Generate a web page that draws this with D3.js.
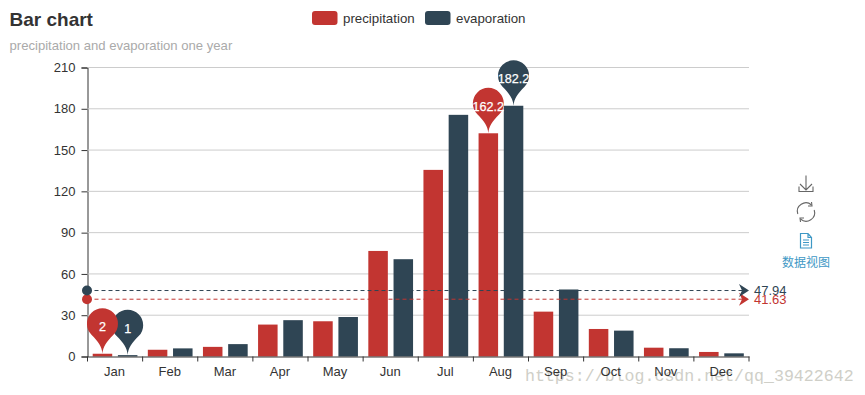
<!DOCTYPE html>
<html>
<head>
<meta charset="utf-8">
<script src="https://cdn.jsdelivr.net/npm/d3@7"></script>
<style>
  body { margin: 0; background: #fff; }
  text { font-family: "Liberation Sans", Arial, sans-serif; }
</style>
</head>
<body>
<div id="chart"></div>
<script>
const months = ['Jan','Feb','Mar','Apr','May','Jun','Jul','Aug','Sep','Oct','Nov','Dec'];
const precipitation = [2, 4.9, 7, 23.2, 25.6, 76.7, 135.6, 162.2, 32.6, 20, 6.4, 3.3];
const evaporation = [1, 5.9, 9, 26.4, 28.7, 70.7, 175.6, 182.2, 48.7, 18.8, 6, 2.3];
const seriesNames = ['precipitation', 'evaporation'];
const seriesColors = ['#c23531', '#2f4554'];
const seriesValues = [precipitation, evaporation];
const averages = [41.63, 47.94];
const yTicks = [0, 30, 60, 90, 120, 150, 180, 210];

const width = 865, height = 395;
const margin = { top: 67.5, right: 116, bottom: 38.5, left: 87.5 };

const svg = d3.select('#chart').append('svg')
	.attr('width', width)
	.attr('height', height)
	.style('display', 'block');

// scales
const xScale = d3.scaleBand()
	.domain(months)
	.range([margin.left, width - margin.right]);

const xInner = d3.scaleBand()
	.domain(seriesNames)
	.range([0, xScale.bandwidth()])
	.paddingInner(0.226)
	.paddingOuter(0.206);

const yScale = d3.scaleLinear()
	.domain([0, 210])
	.range([height - margin.bottom, margin.top]);

// watermark sits behind the axis labels
svg.append('text').attr('x', 525).attr('y', 381)
	.attr('font-size', 16.6)
	.attr('fill', '#cfcfc8')
	.style('font-family', '"Liberation Mono", monospace')
	.text('https://blog.csdn.net/qq_39422642');

// y axis with the grid lines
const yAxis = svg.append('g')
	.attr('transform', `translate(${margin.left},0)`)
	.call(d3.axisLeft(yScale).tickValues(yTicks).tickSize(6).tickPadding(6));
yAxis.selectAll('.tick text').attr('font-size', 13).attr('fill', '#333');
yAxis.selectAll('.tick line').attr('stroke', '#333');
yAxis.select('.domain').attr('stroke', '#333');

svg.append('g').selectAll('line')
	.data(yTicks.filter(d => d > 0))
	.enter().append('line')
	.attr('x1', margin.left)
	.attr('x2', width - margin.right)
	.attr('y1', d => yScale(d))
	.attr('y2', d => yScale(d))
	.attr('stroke', '#ccc');

// bars
seriesNames.forEach((name, i) => {
	svg.append('g').selectAll('rect')
		.data(seriesValues[i])
		.enter().append('rect')
		.attr('x', (d, j) => xScale(months[j]) + xInner(name))
		.attr('y', d => yScale(d))
		.attr('width', xInner.bandwidth())
		.attr('height', d => yScale(0) - yScale(d))
		.attr('fill', seriesColors[i]);
});

// x axis, ticks sit between the months
const xAxisG = svg.append('g')
	.attr('transform', `translate(0,${yScale(0)})`)
	.call(d3.axisBottom(xScale).tickSize(0).tickPadding(10));
xAxisG.selectAll('.tick text').attr('font-size', 13).attr('fill', '#333').attr('dx', '-0.5');
xAxisG.select('.domain').attr('stroke', '#333');
xAxisG.selectAll('.sep')
	.data(months.concat(['end']))
	.enter().append('line')
	.attr('class', 'sep')
	.attr('x1', (d, i) => margin.left + i * xScale.step())
	.attr('x2', (d, i) => margin.left + i * xScale.step())
	.attr('y1', 0)
	.attr('y2', 5)
	.attr('stroke', '#333');

// average lines
averages.forEach((avg, i) => {
	const c = seriesColors[i];
	const y = yScale(avg);
	const x2 = width - margin.right;
	svg.append('line')
		.attr('x1', margin.left).attr('x2', x2 - 4)
		.attr('y1', y).attr('y2', y)
		.attr('stroke', c)
		.attr('stroke-dasharray', '4,3');
	svg.append('circle')
		.attr('cx', margin.left - 0.5).attr('cy', y).attr('r', 5).attr('fill', c);
	svg.append('path')
		.attr('transform', `translate(${x2},${y})`)
		.attr('d', 'M-10,-6.5 L0,0 L-10,6.5 L-7,0 Z')
		.attr('fill', c);
});
[1, 0].forEach(i => {
	svg.append('text')
		.attr('x', 754)
		.attr('y', yScale(averages[i]))
		.attr('dy', '.35em')
		.attr('font-size', 13)
		.attr('fill', seriesColors[i])
		.text(averages[i]);
});

// pins for the min and max of each series
const pinPath = 'M0,0 C-0.5,-7 -4,-12 -11,-19 A15.5,15.5 0 1 1 11,-19 C4,-12 0.5,-7 0,0 Z';
[1, 0].forEach(i => {
	const vals = seriesValues[i];
	[d3.min(vals), d3.max(vals)].forEach(v => {
		const m = months[vals.indexOf(v)];
		const g = svg.append('g')
			.attr('transform', `translate(${xScale(m) + xInner(seriesNames[i]) + xInner.bandwidth() / 2},${yScale(v)})`);
		g.append('path').attr('d', pinPath).attr('fill', seriesColors[i]);
		g.append('text')
			.attr('y', -27)
			.attr('dy', '.35em')
			.attr('text-anchor', 'middle')
			.attr('font-size', 12.6)
			.attr('fill', '#fff')
			.attr('stroke', '#fff')
			.attr('stroke-width', 0.25)
			.text(v);
	});
});

// title
svg.append('text').attr('x', 9.5).attr('y', 26)
	.attr('font-size', 19).attr('font-weight', 'bold').attr('fill', '#333')
	.text('Bar chart');
svg.append('text').attr('x', 9.5).attr('y', 50)
	.attr('font-size', 13.1).attr('fill', '#aaa')
	.text('precipitation and evaporation one year');

// legend
const legendX = [312, 425];
seriesNames.forEach((name, i) => {
	svg.append('rect')
		.attr('x', legendX[i]).attr('y', 11)
		.attr('width', 25.5).attr('height', 14)
		.attr('rx', 3)
		.attr('fill', seriesColors[i]);
	svg.append('text')
		.attr('x', legendX[i] + 31).attr('y', 22.5)
		.attr('font-size', 13.3).attr('fill', '#333')
		.text(name);
});

// toolbox icons
const tools = svg.append('g').attr('fill', 'none').attr('stroke', '#666').attr('stroke-width', 1.1);
tools.append('path').attr('d', 'M806,175.5 V190 M800,184 L806,190 L812,184 M799,186.5 V191.5 H813 V186.5');
tools.append('path').attr('d', 'M797.8,214 A8.5,8.5 0 0 1 811.5,205 M814.2,210 A8.5,8.5 0 0 1 800.5,219');
tools.append('path').attr('d', 'M811.5,202 L812,206 L808,206 M800.5,222 L800,218 L804,218');
const docIcon = svg.append('g').attr('fill', 'none').attr('stroke', '#3e98c5').attr('stroke-width', 1.2);
docIcon.append('path').attr('d', 'M800.5,233.5 H808 L811.5,237.5 V248 H800.5 Z M808,233.5 V237.5 H811.5');
docIcon.append('path').attr('d', 'M803,240 H809 M803,242.5 H809 M803,245 H809');
svg.append('text').attr('x', 806).attr('y', 266.5)
	.attr('text-anchor', 'middle')
	.attr('font-size', 12)
	.attr('fill', '#3e98c5')
	.style('font-family', '"Noto Sans CJK SC", sans-serif')
	.text('数据视图');
</script>
</body>
</html>
